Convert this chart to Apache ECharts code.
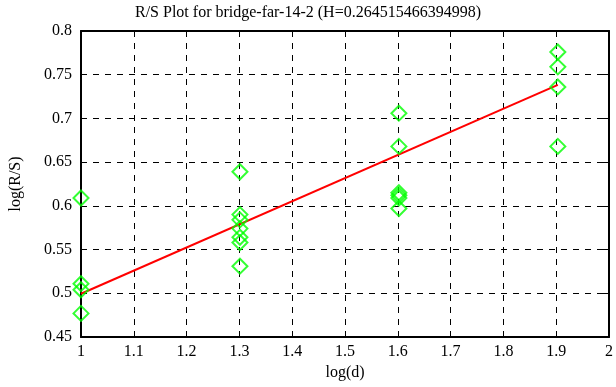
<!DOCTYPE html>
<html><head><meta charset="utf-8">
<script src="https://cdn.jsdelivr.net/npm/echarts@6/dist/echarts.min.js"></script>
<style>html,body{margin:0;padding:0;background:#fff}#c{width:616px;height:387px}</style>
</head><body><div id="c"></div>
<script>
var titleText = 'R/S Plot for bridge-far-14-2 (H=0.264515466394998)';
var xName = 'log(d)';
var yName = 'log(R/S)';
var pointX = [1,1,1,1,
  1.30103,1.30103,1.30103,1.30103,1.30103,1.30103,1.30103,
  1.60206,1.60206,1.60206,1.60206,1.60206,1.60206,
  1.90309,1.90309,1.90309,1.90309];
var pointY = [0.609,0.511,0.504,0.477,
  0.639,0.590,0.584,0.574,0.564,0.558,0.531,
  0.706,0.668,0.615,0.612,0.609,0.597,
  0.776,0.759,0.736,0.668];
var fitX = [1, 1.90309];
var fitY = [0.4995, 0.7384];

var font = 'Liberation Serif';
var chart = echarts.init(document.getElementById('c'), null, {renderer:'canvas'});
var axisBase = {
  axisLine:{show:true,onZero:false,lineStyle:{color:'#000',width:2}},
  axisTick:{show:true,inside:true,length:6,lineStyle:{color:'#000',width:1}},
  splitLine:{show:true,lineStyle:{color:'#000',type:[6,6],width:1}}
};
chart.setOption({
  backgroundColor:'#fff',
  animation:false,
  title:{text:titleText,left:'center',top:0,textStyle:{fontFamily:font,fontSize:16,fontWeight:'normal',color:'#000'}},
  grid:{left:81,right:7,top:31,bottom:50},
  xAxis:[
    Object.assign({type:'value',min:1,max:2,interval:0.1,position:'bottom',
      name:xName,nameLocation:'middle',nameGap:27,
      nameTextStyle:{fontFamily:font,fontSize:16,color:'#000'},
      axisLabel:{fontFamily:font,fontSize:16,color:'#000',margin:7,
        formatter:function(v){return +v.toFixed(1)+'';}}},axisBase),
    Object.assign({type:'value',min:1,max:2,interval:0.1,position:'top',
      axisLabel:{show:false}},axisBase,{splitLine:{show:false}})
  ],
  yAxis:[
    Object.assign({type:'value',min:0.45,max:0.8,interval:0.05,position:'left',
      name:yName,nameLocation:'middle',nameGap:57,nameRotate:90,
      nameTextStyle:{fontFamily:font,fontSize:16,color:'#000'},
      axisLabel:{fontFamily:font,fontSize:16,color:'#000',margin:9,
        formatter:function(v){return +v.toFixed(2)+'';}}},axisBase),
    Object.assign({type:'value',min:0.45,max:0.8,interval:0.05,position:'right',
      axisLabel:{show:false}},axisBase,{splitLine:{show:false}})
  ],
  series:[
    {type:'line',xAxisIndex:0,yAxisIndex:0,data:fitX.map(function(x,i){return [x,fitY[i]];}),
      showSymbol:false,symbol:'none',lineStyle:{color:'#ff0000',width:2},z:2},
    {type:'scatter',xAxisIndex:0,yAxisIndex:0,data:pointX.map(function(x,i){return [x,pointY[i]];}),
      symbol:'diamond',symbolSize:[15,15],
      itemStyle:{color:'rgba(0,0,0,0)',borderColor:'#00ff00',borderWidth:2},z:3}
  ]
});
</script></body></html>
